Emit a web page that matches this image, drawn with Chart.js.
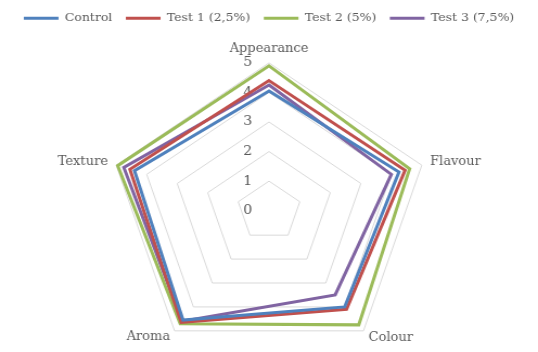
<!DOCTYPE html>
<html>
<head>
<meta charset="utf-8">
<script src="https://cdn.jsdelivr.net/npm/chart.js@4.4.1/dist/chart.umd.min.js"></script>
<style>
  html, body { margin: 0; padding: 0; background: #fff; overflow: hidden; }
  /* the original picture is a bit wider than it is tall, so stretch the canvas;
     the canvas is taller than the window so the bottom labels can sit near the edge */
  #radarChart { display: block; transform: scaleX(1.0847); transform-origin: 0 0; }
</style>
</head>
<body>
<canvas id="radarChart" width="496" height="378"></canvas>
<script>
var attributes = ["Appearance", "Flavour", "Colour", "Aroma", "Texture"];

var seriesNames = ["Control", "Test 1 (2,5%)", "Test 2 (5%)", "Test 3 (7,5%)"];
var control = [4.05, 4.25, 4.0, 4.55, 4.4];
var test1 = [4.4, 4.45, 4.1, 4.65, 4.55];
var test2 = [4.9, 4.6, 4.75, 4.7, 4.95];
var test3 = [4.25, 4.0, 3.5, 4.6, 4.75];

var tickValues = [0, 1, 2, 3, 4, 5];

var colours = ["#4F81BD", "#C0504D", "#9BBB59", "#8064A2"];
var textGrey = "#595959";
var fontName = "'DejaVu Serif', 'Liberation Serif', serif";

Chart.defaults.font.family = fontName;
Chart.defaults.color = textGrey;

var radarCanvas = document.getElementById("radarChart");

var seriesValues = [control, test1, test2, test3];
var radarData = {
    labels: attributes,
    datasets: seriesNames.map(function (name, i) {
        return {
            label: name,
            data: seriesValues[i],
            borderColor: colours[i],
            backgroundColor: colours[i],
            borderWidth: 3,
            fill: false,
            pointRadius: 0,
            pointHoverRadius: 0
        };
    })
};

// padding / line height of each axis title (Appearance keeps the space on top)
var labelPadding = [-8, 1.5, 1.5, 0.5, 1.5];
var labelLineHeight = [2.53, 0.1, 0.1, 0.1, 0.1];

// ticks sit a little left of the vertical axis in the original
var tickShift = "\u2003\u2003\u2003";

var chartOptions = {
    responsive: false,
    animation: false,
    plugins: {
        legend: {
            position: "top",
            maxHeight: 24,
            labels: {
                usePointStyle: true,
                pointStyle: "line",
                pointStyleWidth: 32,
                padding: 12.5,
                color: textGrey,
                font: { size: 11.5 }
            }
        },
        tooltip: { enabled: false }
    },
    scales: {
        r: {
            min: -0.01,
            max: 5,
            angleLines: { display: false },
            grid: { color: "#D9D9D9", lineWidth: 1 },
            ticks: {
                stepSize: 1,
                showLabelBackdrop: false,
                backdropPadding: 0,
                color: textGrey,
                font: { size: 13 },
                callback: function (value) {
                    if (value < 0) return tickValues[0] + tickShift;
                    if (tickValues.indexOf(value) < 1) return "";
                    return value + tickShift;
                }
            },
            pointLabels: {
                color: textGrey,
                padding: function (ctx) { return labelPadding[ctx.index]; },
                font: function (ctx) {
                    return { size: 12, lineHeight: labelLineHeight[ctx.index] };
                }
            }
        }
    }
};

var radarChart = new Chart(radarCanvas, {
    type: "radar",
    data: radarData,
    options: chartOptions
});
</script>
</body>
</html>
